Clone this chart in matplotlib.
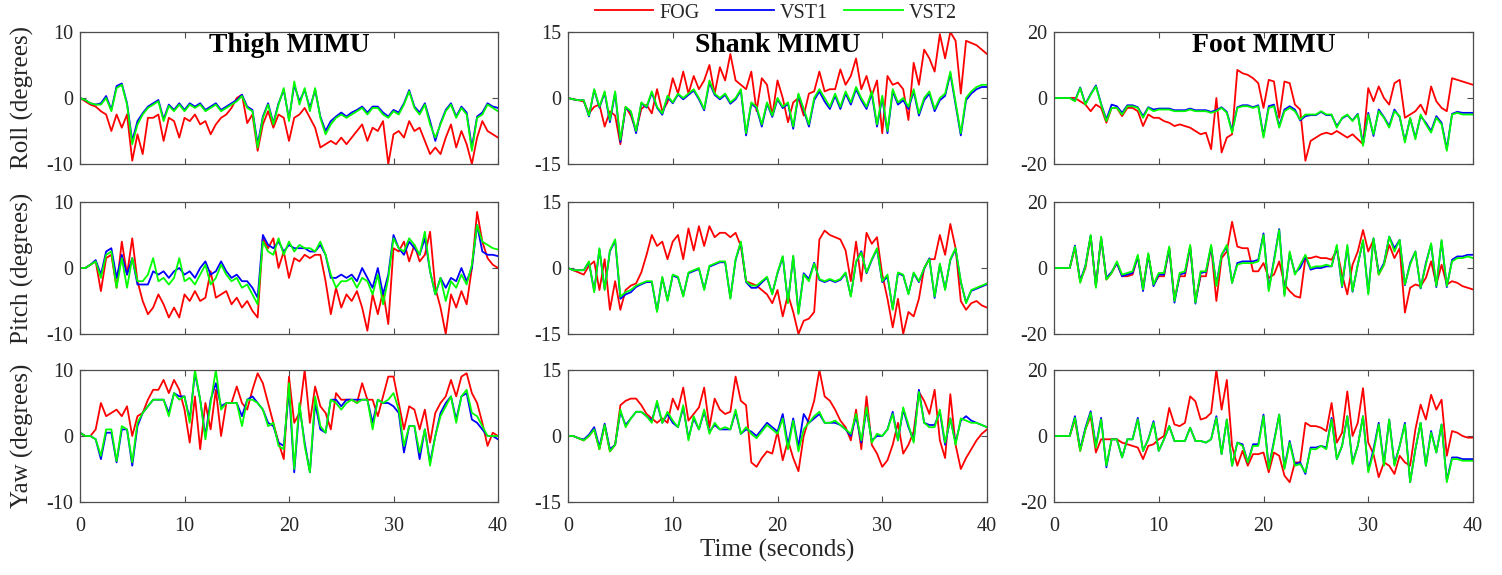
import numpy as np
import matplotlib
matplotlib.use("Agg")
import matplotlib.pyplot as plt

plt.rcParams['font.family'] = ['Liberation Serif', 'DejaVu Serif']

# ---------------- data (sampled every 0.5 s, 0..40 s) ----------------
series_names = ["FOG", "VST1", "VST2"]
row_labels = ["Roll (degrees)", "Pitch (degrees)", "Yaw (degrees)"]
col_titles = ["Thigh MIMU", "Shank MIMU", "Foot MIMU"]
col_ylims = [10, 15, 20]
x_ticks = [0, 10, 20, 30, 40]

# Thigh roll
thigh_roll_fog = [0, -0.5, -1, -1.3, -2, -2.5, -5, -2.5, -4.5, -2.5,
                  -9.5, -5.5, -8.5, -3, -3, -2.5, -6.5, -3, -3.5, -6,
                  -3, -3.5, -2.5, -4, -3.5, -5.5, -4, -3, -2.5, -1.5,
                  0, 0.5, -3.8, -2.5, -8, -4, -2, -4.5, -2.5, -3,
                  -6.5, -3, -2.5, -1.5, -3, -4.5, -7.5, -7, -6.5, -7,
                  -6, -7, -6, -5, -4, -6.5, -4.5, -5, -3.5, -10,
                  -5.5, -5, -6, -3.5, -5, -4.5, -6.5, -8.5, -7.5, -8.5,
                  -6, -4, -7.5, -5, -7, -10, -6, -3.5, -5, -5.5,
                  -6]
thigh_roll_v1 = [0, -0.3, -0.8, -1, -0.8, 0.3, -1.8, 1.8, 2.2, -0.8,
                 -6.5, -3.5, -2.3, -1.3, -0.8, -0.3, -3.2, -1, -1.8, -0.8,
                 -1.8, -0.8, -1.3, -0.8, -1.8, -1.3, -0.8, -1.8, -1.3, -0.8,
                 -0.3, 0.5, -1.3, -1.8, -7, -2.8, -0.8, -3.8, -0.8, 1.2,
                 -3.2, 2, -0.5, 1.2, -1.5, 1.2, -2.8, -5, -3.5, -2.8,
                 -2.2, -2.8, -2.2, -1.8, -1.3, -2.2, -1.3, -1.3, -2.2, -2.8,
                 -1.8, -2.2, -0.8, 1.2, -1.3, -2.2, -0.8, -3.5, -6.5, -3.8,
                 -1.8, -0.8, -2.8, -1.3, -2.2, -7.5, -2.8, -2.2, -0.8, -1.3,
                 -1.5]
thigh_roll_v2 = [0, -0.3, -0.8, -1, -1, 0, -2, 1.5, 2, -1,
                 -7, -4, -2.5, -1.5, -1, -0.5, -3.5, -1.2, -2, -1,
                 -2, -1, -1.5, -1, -2, -1.5, -1, -2, -1.5, -1,
                 -0.5, 0.3, -1.5, -2, -7.5, -3, -1, -4, -1, 1.5,
                 -3.5, 2.5, -1, 1.5, -2, 1.5, -3, -5.5, -4, -3,
                 -2.5, -3, -2.5, -2, -1.5, -2.5, -1.5, -1.5, -2.5, -3,
                 -2, -2.5, -1, 1, -1.5, -2.5, -1, -4, -6, -4,
                 -2, -1, -3, -1.5, -2.5, -8, -3, -2.5, -1, -1.5,
                 -2]

# Shank roll
shank_roll_fog = [0, -0.3, -0.5, -0.8, -3.5, -2, -1.5, -6.5, -3, -4,
                  -10.5, -2, -4, -7.5, -2.5, -1.5, -3.5, 2, -3, -1,
                  4.5, 1, 6, 1, 5, 2, 4, 7.5, 1, 7,
                  4, 10, 4, 3, 2, 6, -3, 4.5, 3, -4,
                  4, 0, -5.5, -1, 0, -4, 1, 1.5, 6, 1.5,
                  2, 2, 6.5, 3, 5, 9, 2, 5, 0.5, 4,
                  -8, 5, 3, 3.5, 2, -5, 8, 3, 11, 9,
                  6, 14.5, 9, 15, 13, 1, 13, 12.5, 12, 11,
                  10]
shank_roll_v1 = [0, -0.3, -0.5, -0.5, -4.2, 1.8, -2.2, 1.2, -5.5, 1.2,
                 -10, -2.2, -3.2, -8, -1.2, -2.2, 1.2, -2.2, -3.8, 0.2,
                 -1.2, 0.8, -0.3, 0.7, 1.7, -0.3, -2.8, 3.5, 0.7, -0.3,
                 0.7, -1.3, -0.3, 1.7, -8.5, -1.3, -2.3, -6.5, -1.3, -4.3,
                 -0.3, -2.3, -1.3, -7, 0.7, -2.8, -6.5, -0.5, 1.5, -0.8,
                 -2.5, 0.5, -2.5, 1, -1.5, 2, -0.5, -2.5, 1, -6.5,
                 0, -8, 1.5, -1.5, -0.5, -2.5, 1.5, -4, -0.5, 1,
                 -3, -0.5, 0.5, 5.5, -1.5, -8.5, -0.5, 1, 2, 2.5,
                 2.5]
shank_roll_v2 = [0, -0.3, -0.5, -0.5, -4, 2, -2, 1.5, -5, 1.5,
                 -9.5, -2, -3, -7.5, -1, -2, 1.5, -2, -3.5, 0.5,
                 -1, 1, 0, 1, 2, 0, -2.5, 4, 1, 0,
                 1, -1, 0, 2, -8, -1, -2, -6, -1, -4,
                 0, -2, -1, -6.5, 1, -2.5, -6, 0, 2, 0,
                 -2, 1, -2, 1.5, -1, 2.5, 0, -2, 1.5, -6,
                 0.5, -7.5, 2, -1, 0, -2, 2, -3.5, 0, 1.5,
                 -2.5, 0, 1, 6, -1, -8, 0, 1.5, 2.5, 3,
                 3]

# Foot roll
foot_roll_fog = [0, 0, 0, 0, 0, -1, -2, -4, -2, -3,
                 -7.5, -3, -3, -5.5, -3, -3, -4, -8.5, -5, -6,
                 -6, -7, -7.5, -8.5, -8, -8.5, -9, -10, -11, -10.5,
                 -15.5, 0, -16.5, -12, -11, 8.5, 7.5, 7, 6, 4.5,
                 -3, 5.5, 5, -6, 5, 4.5, -2, -3.5, -19, -13,
                 -12, -11, -10.5, -11, -10, -11, -12, -11, -12.5, -14,
                 3, -1, 3.5, 0, -2, 4.5, 5.5, -6, -5, -4,
                 -2, -5, 3.5, -1, -3, -4, 6, 5.5, 5, 4.5,
                 4]
foot_roll_v1 = [0, 0, 0, 0, -0.8, 3.2, -1.8, 1.2, 3.8, -1.8,
                -6.5, -2, -2.5, -4.5, -2.2, -2.2, -2.8, -5.5, -2.8, -3.5,
                -3.2, -3.2, -3.2, -3.7, -3.7, -3.7, -3.2, -3.7, -3.7, -3.7,
                -4.2, -3.7, -2.8, -4.2, -10, -2.8, -2.2, -2.2, -2.8, -2.2,
                -11.5, -2.5, -2, -8.5, -3.5, -2.5, -3.5, -6.8, -5.5, -5.2,
                -5.2, -4.2, -5.2, -5.2, -8.5, -6.2, -5.2, -6.8, -4.8, -14,
                -4.5, -11.5, -3.5, -5.8, -8.5, -3.5, -5.8, -13, -6.2, -12,
                -5.5, -7.5, -10, -5.5, -7.5, -15.5, -4.8, -4.2, -4.5, -4.5,
                -4.5]
foot_roll_v2 = [0, 0, 0, 0, -1, 3, -2, 1, 3.5, -2,
                -7, -3, -3, -5, -2.5, -2.5, -3, -6, -3, -4,
                -3.5, -3.5, -3.5, -4, -4, -4, -3.5, -4, -4, -4,
                -4.5, -4, -3, -4.5, -10.5, -3, -2.5, -2.5, -3, -2.5,
                -12, -3, -2.5, -9, -4, -3, -4, -6.5, -5, -5,
                -5, -4, -5, -5, -9, -6, -5, -7, -5, -14.5,
                -5, -11, -4, -6, -9, -4, -5.5, -13.5, -6, -12.5,
                -5, -8, -10.5, -6, -8, -16, -5, -4.5, -5, -5,
                -5]

# Thigh pitch
thigh_pitch_fog = [0, 0, 0.5, 1, -3.5, 1.5, 2, -3, 4, -1,
                   4.5, -2, -5, -7, -6, -4, -5.5, -7.5, -6, -7.5,
                   -4, -5, -3.5, -5, -4.5, -0.5, -4.5, -4, -3.5, -5.5,
                   -4.5, -6, -5, -6.5, -7.5, 4.5, 3, 4.5, 0, 2.5,
                   -1.5, 1.5, 1, 2, 1.5, 2, 2, -2, -7, -3,
                   -6, -4, -5, -3.5, -6, -9.5, -4, -7, -3.5, -8.5,
                   3, 2.5, 4, 1, 3.5, 1, 2, 5.5, -3, -6,
                   -10, -4, -6, -3.5, -5.5, 0, 8.5, 4, 1.5, 0.5,
                   0]
thigh_pitch_v1 = [0, 0, 0.5, 1.2, -1, 2.5, 3, -1.5, 2, -1,
                  1.5, -2.5, -2.5, -2.5, -0.5, -1, -0.5, -1.5, -0.5, 0,
                  -1, -0.5, -1.5, 0, 1, -1, -0.5, 1, -0.5, -1.5,
                  -1, -2, -2, -3, -4.5, 5, 3.5, 3, 4, 2.5,
                  3.5, 3, 3, 3, 2.5, 2.5, 3.5, 2, -1.5, -1.5,
                  -1, -1.5, -1, -2, 0, -1.5, -3, 0, -4, -1,
                  5, 3, 2, 4, 3, 2, 4.5, -0.5, -4, -1.5,
                  -3, -1.5, -2, 0, -2, 0, 6.5, 2.5, 2, 2,
                  1.8]
thigh_pitch_v2 = [0, 0, 0.5, 1, -1.5, 2, 2.5, -3, 1.5, -3,
                  1.5, -2, -2, -1, 1.5, -2, -1.5, -2.5, -1.5, 1.5,
                  -2, -1.5, -2.5, -1, 0.5, -2.5, -1.5, 0.5, -1, -2,
                  -1.5, -3, -2.5, -4, -5.5, 4, 2.5, 2, 4.5, 2,
                  4, 2.5, 3.5, 3, 3, 2.5, 4, 2, -1, -3,
                  -2, -2, -1.5, -3, -1.5, -2, -4, -1, -5.5, -1.5,
                  4.5, 3, 2.5, 4.5, 3.5, 2, 5.5, -0.5, -4, -1.5,
                  -5, -2, -3, -1, -2.5, 0.5, 6.5, 4, 3.5, 3,
                  2.8]

# Shank pitch
shank_pitch_fog = [0, -0.5, -1, -1.5, 0.5, 1.5, -5, 2, -9.5, -3,
                   -9.5, -5, -4, -3.5, -1, 3, 7.5, 5, 6, 2,
                   6, 7.5, 2, 9, 4, 9.5, 5, 9.5, 7, 8,
                   8, 7, 8, 5, -3, -3.5, -4, -5, -6, -8,
                   -5, -11, -6, -10, -15, -12, -11.5, -10, 6.5, 8.5,
                   7.5, 7, 6.5, 4, -3, 6, -3, 8, 5.5, 7,
                   -1.5, -7, -13.5, -7, -15, -10, -11, -7, 0, 2,
                   2, 7.5, 3, 10, 4.5, -7.5, -9.5, -8, -7.5, -8.5,
                   -9]
shank_pitch_v1 = [0, -0.5, -0.5, -0.5, 1.3, -5.2, 4.2, -4.8, 3.8, 6.2,
                  -7, -6, -5.5, -4.3, -3.7, -3.2, -3.2, -9.8, -2.2, -7.3,
                  -1.7, -2.2, -6.3, -1.2, -0.7, -0.2, -4.8, 0.3, 0.8, 1.3,
                  1.3, -6.8, 1.8, 5.8, -3.2, -4.5, -4.5, -3.3, -2.2, -5.8,
                  -1.2, 2.5, -7.8, 2.6, -10.2, -1.2, -2.5, 1.2, -2.7, -3.2,
                  -2.7, -3.2, -2.7, -1.2, -6.3, 1.3, 3.8, -1.2, 1.8, 4.3,
                  -3.2, -2, -9.3, -1.2, -1.7, -5.8, -1.2, -3.2, -0.2, 2.2,
                  -6.8, 0.8, -4.8, 1.8, 4.3, -3.2, -7.8, -5.2, -4.7, -4.2,
                  -3.7]
shank_pitch_v2 = [0, -0.5, -0.5, -0.5, 1.5, -5.5, 4.5, -5, 4, 6.5,
                  -6.5, -5.5, -5, -4, -3.5, -3, -3, -10, -2, -7.5,
                  -1.5, -2, -6.5, -1, -0.5, 0, -5, 0.5, 1, 1.5,
                  1.5, -7, 2, 6, -3, -4, -4, -3, -2, -6,
                  -1, 2.7, -8, 2.8, -10.5, -1.5, -3, 1, -2.5, -3,
                  -2.5, -3, -2.5, -1, -6.5, 1.5, 3.5, -1, 2, 4.5,
                  -3, -1.5, -9.5, -1, -1.5, -6, -1, -3, 0, 2,
                  -6.5, 1, -5, 2, 4.5, -3, -8, -5, -4.5, -4,
                  -3.5]

# Foot pitch
foot_pitch_fog = [0, 0, 0, 0, 6, -4, 0, 9.5, -5.5, 9,
                  -3.5, -1.5, 1.5, -2.5, -2.5, -2, 3.5, -6, 4, -5,
                  -2.5, -2.5, 6, -9.5, -2.5, -2.5, 6.5, -10, -2.5, -2.5,
                  6.5, -10, 3, 5, 14, 6.5, 6, 6, -1, -1,
                  1.5, -3, -2, 2, -5, -7, -8.5, -9, 3, 3,
                  3.5, 3, 3, 2.5, 5.5, -2, -8, 1, 5, 11.5,
                  5, 8.5, -2, 1, 7, 3, 6, -13.5, -6, -5,
                  -5.5, -3, 2, -5, 1, -5, -4, -4.5, -5.5, -6,
                  -6.5]
foot_pitch_v1 = [0, 0, 0, 0, 6.8, -4, 0.8, 9.8, -5.5, 9.2,
                 -3, -1.2, 1.5, -2.5, -2, -1.5, 3.5, -7, 4, -5.5,
                 -2, -2, 6, -10.5, -2, -1.5, 6.5, -10.8, -1.5, -1.2,
                 6.5, -5, 4, 6.5, -4.5, 1.5, 2, 2, 2, 2.5,
                 10.5, -6.5, 2.5, 11.8, -8, 4.5, -1.5, 0, 3.5, -0.5,
                 0, 0, 0.5, 0.5, 6.5, -5.8, 6.5, -7.2, 1, 8.2,
                 -7.5, 9, -1.5, 1.5, 9.5, 6, 8.5, -5.2, 1.5, 5,
                 -6.2, 1.5, 7.2, -5.8, 8.2, -5.8, 2.5, 3.5, 3.5, 4,
                 4]
foot_pitch_v2 = [0, 0, 0, 0, 6.5, -4.5, 0.5, 10, -6, 9.5,
                 -3.5, -1.5, 2, -2, -1.5, -1, 4, -6.5, 4.5, -5,
                 -1.5, -1.5, 6.5, -10, -1.5, -1, 7, -10.5, -1, -1,
                 7, -5.5, 4, 7, -4.5, 1, 1.5, 1.5, 1.5, 2,
                 10, -7, 2, 11.5, -8.5, 5, -2, 1, 4, 0,
                 0.5, 0.5, 1, 0.5, 7, -5.5, 7, -7, 1, 8.5,
                 -8, 9, -2, 1, 9.5, 5, 8.5, -5, 1, 5,
                 -6, 1, 7.5, -5.5, 8.5, -5.5, 2, 3, 3, 3.5,
                 3]

# Thigh yaw
thigh_yaw_fog = [0.5, 0, 0, 1, 5, 3, 3.5, 4, 3, 4.5,
                 0, 3, 3.5, 5.5, 7, 7, 8.5, 6.5, 8.5, 7,
                 4, -1, 6, -2, 5, 1, 7, 0, 5, 5,
                 7.5, 5, 4, 7, 9.5, 8, 5, 2, -1, -3.5,
                 9, 2, 3.5, 10, 2, 7.5, 4.5, 3.5, 1, 6.5,
                 5.5, 5.5, 5.5, 5, 8, 5.5, 5.5, 3, 6, 9,
                 9, 5, 1, 4.5, 4, 1, 4, -1, 3.5, 5,
                 6, 8.5, 6, 9, 9.5, 6.5, 5, 2, -1.5, 0.5,
                 0]
thigh_yaw_v1 = [0.5, 0, 0, -0.5, -3.5, 0.5, 0.5, -4, 1, 1,
                -4.5, 1.5, 3.5, 4.5, 5.5, 5.5, 5.5, 3.5, 6.5, 6,
                6, 2.5, 9.5, 5.5, 0, 5.5, 8, 4.5, 5, 5,
                5, 3, 5.5, 6, 5, 4, 2, 1.5, -1, -1.5,
                7, -5.5, 4.5, -1, -5.5, 5, 1, 0.5, 5.5, 5.5,
                4.5, 5.5, 5.5, 5.5, 5.5, 5.5, 2, 5.5, 5, 5,
                4.5, 3.5, -2.5, 1.5, 1.5, -3.5, 1, -4, 0, 3.5,
                5, 6, 2.5, 6, 6.5, 2.5, 2, 1, 0, 0,
                -0.5]
thigh_yaw_v2 = [0.5, 0, 0, -0.5, -3, 1, 1, -3.8, 1.5, 1,
                -4, 2, 3.5, 4.5, 5.5, 5.5, 5.5, 3, 6.5, 5.5,
                6, 2, 10, 5.5, -0.5, 5, 10, 4, 5, 5,
                5, 1.5, 5.5, 5.5, 5, 4, 1.5, 2, -1.5, -2,
                8, -5, 5, -1.5, -5.5, 6, 1.5, 0.5, 5.5, 5,
                4, 5, 5.5, 5, 5.5, 5.5, 1, 5.5, 5, 5.5,
                6.5, 4, -1.5, 1.5, 1.5, -2.5, 1, -4.5, 0, 3,
                4.5, 6, 2, 6, 7, 3.5, 3, 1.5, 0, 0,
                0]

# Shank yaw
shank_yaw_fog = [0, 0, -0.5, -1, 0, 1.5, -3, 2.5, -3.5, -2,
                 7, 8, 8.5, 8.5, 7, 5, 4, 3, 4, 3,
                 8.5, 6, 11, 3.5, 5, 6.5, 11, 2, 8.5, 6,
                 5, 5.5, 13.5, 8, 7, -6, -7, -5, -3.5, -4,
                 1, -5.5, -1, -5, -8, 0, 4, 8, 15, 9,
                 8, 6, 3.5, 2, -1, 6, -3, 9, -2, -4,
                 -7, -5.5, -2, 3, -4, -2, 1, 10, 8, 5,
                 10.5, -1, -5, 9.5, -2, -7.5, -5, -3, -1, 0.5,
                 1.5]
shank_yaw_v1 = [0, 0, -0.5, -0.8, 0.3, 2, -2.5, 2.8, -3, -2,
                5.5, 2.5, 4, 5.5, 5.5, 4.5, 3.5, 7.5, 3, 5,
                3, 2, 6.5, -0.5, 4, 1.5, 5.5, 1, 2.5, 1.5,
                1.5, 1.5, 5.5, 0.5, 1.5, 1, 0, 1.5, 3, 2,
                1, 5, -2, 4, -2.5, 5, 3, 4, 5, 3,
                3, 3, 2.5, 1.5, 0, 4.5, -1.5, 6, -1, 0,
                0, 1.5, 5.5, -1, 6, 2, -1, 10.5, 3, 2.5,
                2.5, 5.5, -2, 4, -1.5, 3.5, 4.5, 3.5, 3, 2.5,
                2]
shank_yaw_v2 = [0, 0, -0.5, -1, 0, 1.5, -3, 2.5, -3.5, -2,
                6, 2, 4, 5.5, 5.5, 4.5, 3, 8, 3, 5.5,
                3.5, 2, 7, -1, 4.5, 1.5, 6, 0.5, 3, 1.5,
                2, 1.5, 6, 0.5, 2, 0.5, -0.5, 1, 2.5, 1.5,
                0.5, 4, -3, 3.5, -3.5, 1.5, 3, 4.5, 5.5, 3,
                3, 3.5, 2.5, 1.5, 0.5, 5, -1, 6.5, -1.5, 0.5,
                0, 1.5, 5, -1, 6.5, 2.5, -1.5, 10, 3, 2,
                2, 6, -1.5, 4, -2, 4, 3.5, 3, 3, 2.5,
                2]

# Foot yaw
foot_yaw_fog = [0, 0, 0, 0, 5, -4.5, 2, 6, -5, -1,
                -1, -1, -1, -2, -2.5, -3, -3.5, -7, -3, -2.5,
                -1, 0, 8.5, 3.5, 3, 4, 12, 10.5, 5, 5.5,
                7, 20, 8, 17, -3, -9, -4.5, -9, -5.5, -5.5,
                -5, -11, -5, -6, -12, -14, -8, -8, 4, 3,
                3, 2.5, 1.5, 10, -2, 1, 13.5, 0, 4, 14.5,
                -2, -5.5, -12.5, -8, -9, -11.5, -6, -8, -9, 2,
                9.5, 5, 12.5, 8, 11, -6, 1.5, 1, 0, -0.5,
                -0.5]
foot_yaw_v1 = [0, 0, 0, 0, 6, -4, 2.5, 7.5, -3, 5.5,
               -9.5, -1, -1, -6.5, -1, -1, 5.5, -4.5, -1, 4.5,
               -4.5, -1, 3, -1.5, -1.5, -1.5, 2.5, -1.5, -1.5, -2,
               -1, 6, -5.5, 5, -9, -2, -2.5, -8, -2.5, -2.5,
               6.5, -9.5, -1.5, 6.5, -9.5, -1.5, -8.5, -8, -11.5, -3.5,
               -3.5, -3, -3.5, 5.5, -7, -3, 6, -8, -3, 6,
               -10.5, -4, 4, -8.5, 5, -8.5, -3, 4, -14, -4,
               4, -9, 1.5, -5, 3.5, -13.5, -6.5, -6.5, -7, -7,
               -7]
foot_yaw_v2 = [0, 0, 0, 0, 5.5, -4.5, 2, 7, -3.5, 5,
               -9, -1, -1, -6.5, -1, -1, 5, -4.5, -1, 4,
               -4.5, -1, 3, -1.5, -1.5, -1.5, 2.5, -1.5, -1.5, -2,
               -1, 5.5, -5.5, 5, -9, -2, -3, -8, -3, -3,
               6, -10, -2, 6.5, -10, -2, -9, -8.5, -11, -4,
               -4, -3, -4, 5, -7, -3, 6, -8.5, -3, 6,
               -11, -5, 3.5, -9, 5, -9, -3, 3.5, -14, -4,
               4, -9, 1, -5, 3.5, -14, -7, -7, -7.5, -7.5,
               -7.5]

grid_data = [
    [(thigh_roll_fog, thigh_roll_v1, thigh_roll_v2),
     (shank_roll_fog, shank_roll_v1, shank_roll_v2),
     (foot_roll_fog, foot_roll_v1, foot_roll_v2)],
    [(thigh_pitch_fog, thigh_pitch_v1, thigh_pitch_v2),
     (shank_pitch_fog, shank_pitch_v1, shank_pitch_v2),
     (foot_pitch_fog, foot_pitch_v1, foot_pitch_v2)],
    [(thigh_yaw_fog, thigh_yaw_v1, thigh_yaw_v2),
     (shank_yaw_fog, shank_yaw_v1, shank_yaw_v2),
     (foot_yaw_fog, foot_yaw_v1, foot_yaw_v2)],
]

# ---------------- figure ----------------
W, H = 1502, 575
fig = plt.figure(figsize=(W / 100, H / 100), dpi=100)

col_left_px = [80, 568, 1054]
col_width_px = [418, 419, 419]
row_top_px = [32, 202, 370]
row_h_px = 132

colors = ["#ff0000", "#0000ff", "#00ff00"]
spine_col = "#4d4d4d"

handles = None
for r in range(3):
    for c in range(3):
        l = col_left_px[c] / W
        b = 1 - (row_top_px[r] + row_h_px) / H
        ax = fig.add_axes([l, b, col_width_px[c] / W, row_h_px / H])
        lines = []
        for vals, col, name in zip(grid_data[r][c], colors, series_names):
            t = np.linspace(0, 40, len(vals))
            ln, = ax.plot(t, vals, color=col, lw=1.3, label=name)
            lines.append(ln)
        if handles is None:
            handles = lines
        lim = col_ylims[c]
        ax.set_xlim(0, 40)
        ax.set_ylim(-lim, lim)
        ax.set_yticks([-lim, 0, lim])
        ax.set_yticklabels([str(-lim), "0", str(lim)])
        ax.set_xticks(x_ticks)
        if r == 2:
            ax.set_xticklabels([str(v) for v in x_ticks])
        else:
            ax.set_xticklabels([])
        ax.tick_params(direction="in", top=True, right=True, length=4,
                       width=0.8, color=spine_col, labelsize=14.5,
                       labelcolor="#262626")
        ax.tick_params(axis="y", pad=5)
        ax.tick_params(axis="x", pad=11)
        for s in ax.spines.values():
            s.set_color(spine_col)
            s.set_linewidth(0.9)
        if r == 0:
            ax.text(0.5, 0.9, col_titles[c], transform=ax.transAxes,
                    ha="center", va="center", fontsize=20,
                    fontweight="bold", color="black")
    # row label
    yc = 1 - (row_top_px[r] + row_h_px / 2) / H
    fig.text(22 / W, yc, row_labels[r], rotation=90, ha="center",
             va="center", fontsize=18, color="#262626")

fig.text(777 / W, 1 - 550 / H, "Time (seconds)", ha="center", va="center",
         fontsize=18, color="#262626")

fig.legend(handles, series_names, loc="center",
           bbox_to_anchor=(776 / W, 1 - 13 / H), ncol=3, frameon=False,
           fontsize=14.5, handlelength=2.9, handletextpad=0.3,
           columnspacing=0.8, borderpad=0.0, labelcolor="#262626")

fig.savefig("out.png", dpi=100)
